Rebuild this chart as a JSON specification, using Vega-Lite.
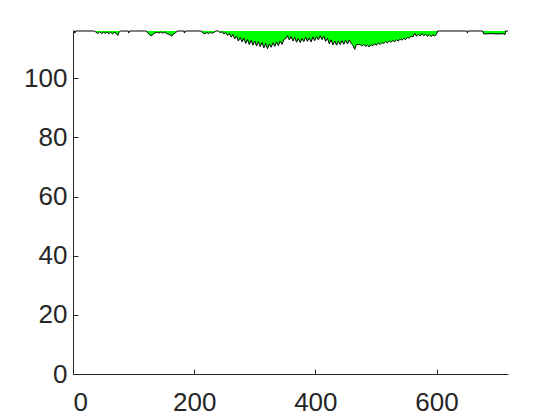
{
  "$schema": "https://vega.github.io/schema/vega-lite/v6.json",
  "width": 435,
  "height": 343,
  "autosize": {"type": "none"},
  "padding": {"left": 73, "top": 31, "right": 52, "bottom": 46},
  "background": "white",
  "config": {
    "view": {"stroke": null},
    "axis": {
      "labelFont": "Liberation Sans",
      "labelFontSize": 26,
      "labelColor": "#262626",
      "domainColor": "#262626",
      "tickColor": "#262626",
      "grid": false,
      "title": null,
      "tickSize": -5
    }
  },
  "data": {
    "values": [
      {"x": 0, "v": 116}, {"x": 2, "v": 116}, {"x": 3, "v": 115.3}, {"x": 4, "v": 116},
      {"x": 36, "v": 116}, {"x": 38, "v": 115.5}, {"x": 41, "v": 115.2}, {"x": 44, "v": 115.7}, {"x": 47, "v": 115.1}, {"x": 50, "v": 115.6}, {"x": 53, "v": 115.2}, {"x": 56, "v": 115.7}, {"x": 59, "v": 115.1}, {"x": 62, "v": 115.6}, {"x": 65, "v": 115.0}, {"x": 68, "v": 115.5}, {"x": 71, "v": 115.3}, {"x": 74, "v": 114.5}, {"x": 76, "v": 115.5}, {"x": 78, "v": 116},
      {"x": 91, "v": 116}, {"x": 92, "v": 115.3}, {"x": 93, "v": 116},
      {"x": 121, "v": 116}, {"x": 124, "v": 115.2}, {"x": 127, "v": 114.6}, {"x": 130, "v": 114.4}, {"x": 133, "v": 115.1}, {"x": 136, "v": 115.4}, {"x": 139, "v": 115.6}, {"x": 142, "v": 115.3}, {"x": 145, "v": 115.7}, {"x": 148, "v": 115.3}, {"x": 151, "v": 115.6}, {"x": 154, "v": 115.2}, {"x": 157, "v": 115.0}, {"x": 160, "v": 114.7}, {"x": 163, "v": 114.3}, {"x": 166, "v": 115.0}, {"x": 169, "v": 115.3}, {"x": 172, "v": 116},
      {"x": 183, "v": 116}, {"x": 184, "v": 115.3}, {"x": 185, "v": 116},
      {"x": 212, "v": 116}, {"x": 215, "v": 115.2}, {"x": 218, "v": 115.1}, {"x": 221, "v": 115.5}, {"x": 224, "v": 115.1}, {"x": 227, "v": 115.6}, {"x": 230, "v": 115.2}, {"x": 233, "v": 115.6}, {"x": 236, "v": 116},
      {"x": 240, "v": 116}, {"x": 243, "v": 115.4}, {"x": 246, "v": 115.8}, {"x": 249, "v": 115.0}, {"x": 252, "v": 115.5}, {"x": 255, "v": 114.5}, {"x": 258, "v": 115.2}, {"x": 261, "v": 113.9}, {"x": 264, "v": 114.8}, {"x": 267, "v": 113.3}, {"x": 270, "v": 114.3}, {"x": 273, "v": 112.6}, {"x": 276, "v": 113.8}, {"x": 279, "v": 112.3}, {"x": 282, "v": 113.6}, {"x": 285, "v": 111.8}, {"x": 288, "v": 113.1}, {"x": 291, "v": 111.4}, {"x": 294, "v": 112.8}, {"x": 297, "v": 111.2}, {"x": 300, "v": 112.6}, {"x": 303, "v": 110.9}, {"x": 306, "v": 112.4}, {"x": 309, "v": 110.7}, {"x": 312, "v": 112.1}, {"x": 315, "v": 110.3}, {"x": 318, "v": 111.8}, {"x": 321, "v": 110.0}, {"x": 324, "v": 111.6}, {"x": 327, "v": 110.5}, {"x": 330, "v": 112.0}, {"x": 333, "v": 110.8}, {"x": 336, "v": 112.3}, {"x": 339, "v": 111.1}, {"x": 342, "v": 112.6}, {"x": 345, "v": 111.5}, {"x": 348, "v": 113.1}, {"x": 351, "v": 113.4}, {"x": 354, "v": 114.4}, {"x": 357, "v": 113.0}, {"x": 360, "v": 114.1}, {"x": 363, "v": 112.6}, {"x": 366, "v": 113.8}, {"x": 369, "v": 112.2}, {"x": 372, "v": 113.5}, {"x": 375, "v": 112.1}, {"x": 378, "v": 113.4}, {"x": 381, "v": 112.4}, {"x": 384, "v": 113.9}, {"x": 387, "v": 112.5}, {"x": 390, "v": 113.7}, {"x": 393, "v": 112.3}, {"x": 396, "v": 114.0}, {"x": 399, "v": 112.7}, {"x": 402, "v": 114.1}, {"x": 405, "v": 113.0}, {"x": 408, "v": 114.4}, {"x": 411, "v": 113.1}, {"x": 414, "v": 114.2}, {"x": 417, "v": 112.5}, {"x": 420, "v": 113.6}, {"x": 423, "v": 111.7}, {"x": 426, "v": 113.0}, {"x": 429, "v": 111.3}, {"x": 432, "v": 112.6}, {"x": 435, "v": 111.2}, {"x": 438, "v": 112.5}, {"x": 441, "v": 111.4}, {"x": 444, "v": 112.7}, {"x": 447, "v": 111.5}, {"x": 450, "v": 112.9}, {"x": 453, "v": 111.6}, {"x": 456, "v": 113.0}, {"x": 459, "v": 111.8}, {"x": 462, "v": 111.2}, {"x": 465, "v": 109.8}, {"x": 468, "v": 111.5}, {"x": 471, "v": 111.4}, {"x": 474, "v": 111.4}, {"x": 477, "v": 110.9}, {"x": 480, "v": 111.5}, {"x": 483, "v": 110.8}, {"x": 486, "v": 111.3}, {"x": 489, "v": 110.6}, {"x": 492, "v": 111.4}, {"x": 495, "v": 111.0}, {"x": 498, "v": 111.7}, {"x": 501, "v": 111.2}, {"x": 504, "v": 112.0}, {"x": 507, "v": 111.4}, {"x": 510, "v": 112.1}, {"x": 513, "v": 111.8}, {"x": 516, "v": 112.4}, {"x": 519, "v": 112.0}, {"x": 522, "v": 112.6}, {"x": 525, "v": 112.2}, {"x": 528, "v": 112.8}, {"x": 531, "v": 112.4}, {"x": 534, "v": 113.0}, {"x": 537, "v": 112.6}, {"x": 540, "v": 113.3}, {"x": 543, "v": 112.9}, {"x": 546, "v": 113.5}, {"x": 549, "v": 113.1}, {"x": 552, "v": 113.8}, {"x": 555, "v": 113.6}, {"x": 558, "v": 114.2}, {"x": 561, "v": 114.0}, {"x": 564, "v": 115.2}, {"x": 567, "v": 114.2}, {"x": 570, "v": 114.9}, {"x": 573, "v": 114.3}, {"x": 576, "v": 115.1}, {"x": 579, "v": 114.4}, {"x": 582, "v": 114.9}, {"x": 585, "v": 114.2}, {"x": 588, "v": 114.8}, {"x": 591, "v": 114.1}, {"x": 594, "v": 114.7}, {"x": 597, "v": 114.3}, {"x": 600, "v": 115.0}, {"x": 602, "v": 116},
      {"x": 650, "v": 116}, {"x": 651, "v": 115.3}, {"x": 652, "v": 116},
      {"x": 676, "v": 116}, {"x": 678, "v": 115.0}, {"x": 690, "v": 115.1}, {"x": 700, "v": 115.0}, {"x": 710, "v": 115.1}, {"x": 713, "v": 114.8}, {"x": 714, "v": 116}, {"x": 718, "v": 116}
    ]
  },
  "encoding": {
    "x": {
      "field": "x",
      "type": "quantitative",
      "scale": {"domain": [0, 718], "nice": false, "zero": false},
      "axis": {"values": [0, 200, 400, 600], "labelPadding": 20}
    }
  },
  "layer": [
    {
      "mark": {"type": "area", "color": "#00ff00", "opacity": 1},
      "encoding": {
        "y": {
          "field": "v",
          "type": "quantitative",
          "scale": {"domain": [0, 116], "nice": false, "zero": false},
          "axis": {"values": [0, 20, 40, 60, 80, 100], "labelPadding": 11}
        },
        "y2": {"datum": 116}
      }
    },
    {
      "mark": {"type": "line", "color": "#000000", "strokeWidth": 1},
      "encoding": {
        "y": {"field": "v", "type": "quantitative"}
      }
    }
  ]
}
